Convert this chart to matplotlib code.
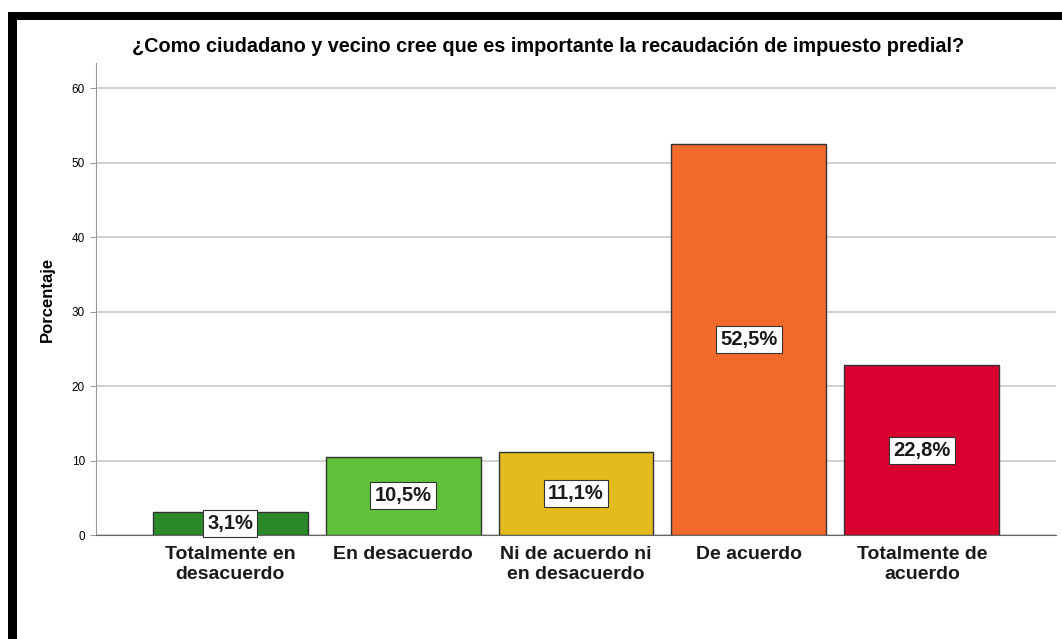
import matplotlib.pyplot as plt
from matplotlib.patches import Rectangle

categories = ["Totalmente en\ndesacuerdo", "En desacuerdo", "Ni de acuerdo ni\nen desacuerdo",
              "De acuerdo", "Totalmente de\nacuerdo"]
values = [3.1, 10.5, 11.1, 52.5, 22.8]
labels = ["3,1%", "10,5%", "11,1%", "52,5%", "22,8%"]
colors = ["#2a8a2a", "#5fc23a", "#e3bb1e", "#f26a2c", "#d7002f"]
yticks = [0, 10, 20, 30, 40, 50, 60]

plt.rcParams['font.family'] = ['Liberation Sans', 'DejaVu Sans']

W, H = 1062, 639
fig = plt.figure(figsize=(W / 100, H / 100), dpi=100)
ax = fig.add_axes([96 / W, 1 - 535 / H, (1056 - 96) / W, (535 - 63) / H])

x = list(range(len(values)))
ax.bar(x, values, width=0.896, color=colors, edgecolor="#333333", linewidth=1.0, zorder=3)
for xi, v, lab in zip(x, values, labels):
    ax.text(xi, v / 2, lab, ha="center", va="center", fontsize=14.5, fontweight="bold",
            color="#1a1a1a", zorder=4,
            bbox=dict(boxstyle="square,pad=0.2", facecolor="white", edgecolor="#333333", linewidth=0.8))

ax.set_xlim(-0.775, 4.775)
ax.set_ylim(0, 63.4)
ax.set_yticks(yticks)
ax.tick_params(axis="y", labelsize=8.5, length=4, color="#999999", pad=4)
ax.set_xticks(x)
ax.set_xticklabels(categories, fontsize=14, fontweight="bold", color="#1a1a1a", linespacing=1.2)
ax.tick_params(axis="x", length=0, pad=8)
ax.grid(axis="y", color="#c8c8c8", linewidth=1.2, zorder=0)
for s in ["top", "right"]:
    ax.spines[s].set_visible(False)
ax.spines["left"].set_color("#999999")
ax.spines["bottom"].set_color("#666666")
ax.set_ylabel("Porcentaje", fontsize=12, fontweight="bold", labelpad=12)

fig.text(548 / W, 1 - 47 / H, "¿Como ciudadano y vecino cree que es importante la recaudación de impuesto predial?",
         ha="center", va="center", fontsize=14.3, fontweight="bold")

# black frame at top and left
fig.add_artist(Rectangle((8 / W, 1 - 20 / H), 1 - 8 / W, 8 / H, transform=fig.transFigure,
                         facecolor="black", edgecolor="none"))
fig.add_artist(Rectangle((8 / W, 0), 9 / W, 1 - 12 / H, transform=fig.transFigure,
                         facecolor="black", edgecolor="none"))

fig.savefig("out.png", dpi=100)
